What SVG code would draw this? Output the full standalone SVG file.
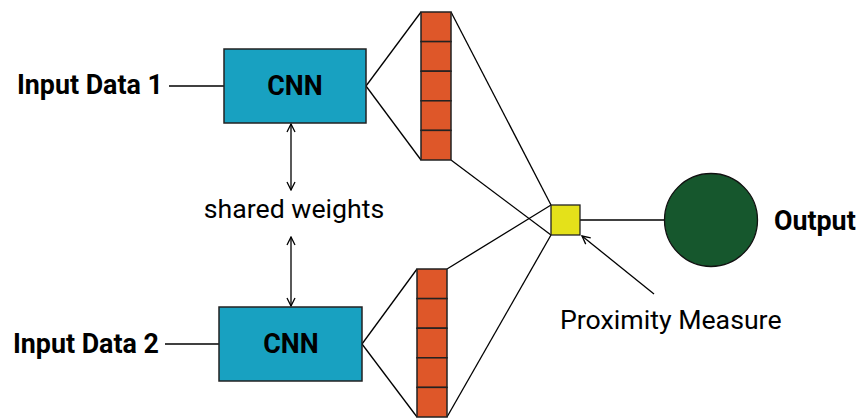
<svg xmlns="http://www.w3.org/2000/svg" width="859" height="419" viewBox="0 0 859 419">
<style>
.b{font-family:Roboto,"Liberation Sans",sans-serif;font-weight:bold;font-size:26.8px;fill:#000}
.r{font-family:Roboto,"Liberation Sans",sans-serif;font-size:26.7px;fill:#000}
.ln{stroke:#000;stroke-width:1.3;fill:none}
.cnn{fill:#18a1c1;stroke:#222;stroke-width:1.5}
.cell{fill:#de5729;stroke:#222;stroke-width:1.5}
</style>
<defs>
<marker id="ah" viewBox="0 0 10 10" refX="9" refY="5" markerWidth="10" markerHeight="10" markerUnits="userSpaceOnUse" orient="auto-start-reverse">
<path d="M1,1 L9,5 L1,9" fill="none" stroke="#000" stroke-width="1.3"/>
</marker>
</defs>
<rect width="859" height="419" fill="#fff"/>
<g id="connectors">
<line class="ln" x1="169" y1="86" x2="224" y2="86"/>
<line class="ln" x1="165" y1="344" x2="219" y2="344"/>
<line class="ln" x1="366" y1="86" x2="421" y2="12"/>
<line class="ln" x1="366" y1="86" x2="421" y2="160"/>
<line class="ln" x1="362" y1="344" x2="417" y2="269"/>
<line class="ln" x1="362" y1="344" x2="417" y2="417"/>
<line class="ln" x1="451" y1="12" x2="551" y2="205"/>
<line class="ln" x1="451" y1="160" x2="551" y2="235"/>
<line class="ln" x1="447" y1="269" x2="551" y2="205"/>
<line class="ln" x1="447" y1="417" x2="551" y2="235"/>
<line class="ln" x1="580" y1="220" x2="664" y2="220"/>
<line class="ln" x1="291" y1="124" x2="291" y2="190" marker-start="url(#ah)" marker-end="url(#ah)"/>
<line class="ln" x1="291" y1="237" x2="291" y2="306" marker-start="url(#ah)" marker-end="url(#ah)"/>
<line class="ln" x1="654" y1="294" x2="582" y2="236" marker-end="url(#ah)"/>
</g>
<g id="input1"><text class="b" x="17" y="94">Input Data 1</text></g>
<g id="input2"><text class="b" x="13" y="353">Input Data 2</text></g>
<g id="cnn1"><rect class="cnn" x="224" y="49" width="142" height="74"/><text class="b" x="295" y="95" text-anchor="middle">CNN</text></g>
<g id="cnn2"><rect class="cnn" x="219" y="307" width="143" height="74"/><text class="b" x="291" y="353" text-anchor="middle">CNN</text></g>
<g id="vec1">
<rect class="cell" x="421" y="12" width="30" height="29.6"/>
<rect class="cell" x="421" y="41.6" width="30" height="29.6"/>
<rect class="cell" x="421" y="71.2" width="30" height="29.6"/>
<rect class="cell" x="421" y="100.8" width="30" height="29.6"/>
<rect class="cell" x="421" y="130.4" width="30" height="29.6"/>
</g>
<g id="vec2">
<rect class="cell" x="417" y="269" width="30" height="29.6"/>
<rect class="cell" x="417" y="298.6" width="30" height="29.6"/>
<rect class="cell" x="417" y="328.2" width="30" height="29.6"/>
<rect class="cell" x="417" y="357.8" width="30" height="29.6"/>
<rect class="cell" x="417" y="387.4" width="30" height="29.6"/>
</g>
<g id="shared"><text class="r" x="294" y="218" text-anchor="middle">shared weights</text></g>
<g id="proximity"><rect x="551" y="205" width="29" height="30" fill="#e4e11a" stroke="#222" stroke-width="1.3"/></g>
<g id="proxlabel"><text class="r" x="560" y="329">Proximity Measure</text></g>
<g id="output"><circle cx="711" cy="220" r="46.5" fill="#16572d" stroke="#111" stroke-width="1.3"/><text class="b" x="774" y="230">Output</text></g>
</svg>
